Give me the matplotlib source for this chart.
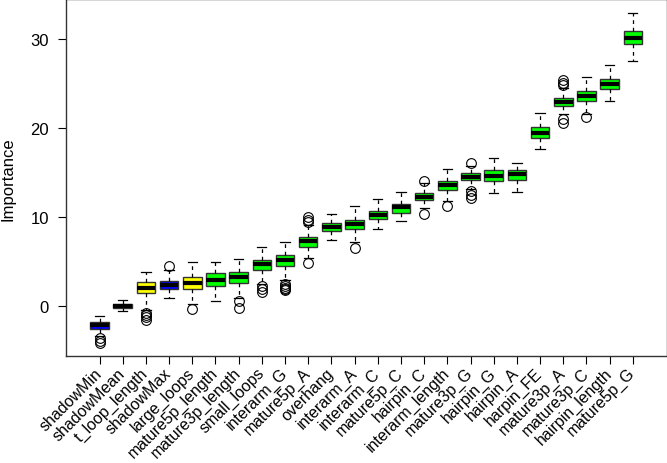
import matplotlib
matplotlib.use("Agg")
import matplotlib.pyplot as plt

plt.rcParams['font.family'] = ['Liberation Sans', 'DejaVu Sans']

labels = ["shadowMin", "shadowMean", "t_loop_length", "shadowMax", "large_loops",
          "mature5p_length", "mature3p_length", "small_loops", "interarm_G", "mature5p_A",
          "overhang", "interarm_A", "interarm_C", "mature5p_C", "hairpin_C",
          "interarm_length", "mature3p_G", "hairpin_G", "hairpin_A", "harpin_FE",
          "mature3p_A", "mature3p_C", "hairpin_length", "mature5p_G"]
status = ["shadow", "shadow", "tentative", "shadow", "tentative",
          "confirmed", "confirmed", "confirmed", "confirmed", "confirmed",
          "confirmed", "confirmed", "confirmed", "confirmed", "confirmed",
          "confirmed", "confirmed", "confirmed", "confirmed", "confirmed",
          "confirmed", "confirmed", "confirmed", "confirmed"]
medians = [-2.2, 0.0, 2.0, 2.35, 2.58, 2.9, 3.17, 4.63, 5.07, 7.2,
           8.85, 9.15, 10.23, 11.05, 12.24, 13.58, 14.48, 14.6, 14.75, 19.41,
           22.88, 23.52, 24.9, 30.12]
q1 = [-2.58, -0.22, 1.38, 1.83, 1.9, 2.2, 2.54, 3.95, 4.4, 6.6,
      8.36, 8.55, 9.7, 10.45, 11.84, 12.99, 14.08, 14.03, 14.15, 18.78,
      22.43, 22.99, 24.3, 29.42]
q3 = [-1.83, 0.19, 2.65, 2.8, 3.2, 3.66, 3.77, 5.1, 5.7, 7.76,
      9.33, 9.66, 10.64, 11.42, 12.69, 14.03, 14.86, 15.27, 15.2, 20.12,
      23.29, 24.11, 25.42, 30.87]
whisk_lo = [-3.4, -0.6, -0.5, 0.86, 0.22, 0.52, 0.9, 2.38, 2.83, 5.37,
            7.39, 7.13, 8.55, 9.48, 10.94, 11.72, 13.1, 12.65, 12.73, 17.55,
            21.5, 21.5, 22.99, 27.51]
whisk_hi = [-1.2, 0.67, 3.77, 3.95, 4.9, 4.9, 5.2, 6.57, 7.13, 9.07,
            10.3, 11.16, 11.95, 12.8, 13.74, 15.34, 15.71, 16.6, 16.0, 21.69,
            24.49, 25.72, 27.07, 32.85]
outliers = [[-3.7, -3.95, -4.25], [], [-0.78, -1.08, -1.34, -1.64], [4.5], [-0.34],
            [], [0.48, -0.22], [2.2, 1.9, 1.53], [2.4, 2.2, 2.0, 1.85, 1.7], [9.93, 9.66, 9.44, 4.8],
            [], [6.46], [], [], [14.03, 10.34],
            [11.23], [15.98, 12.84, 12.43, 12.06], [], [], [],
            [25.31, 25.05, 24.83, 21.02, 20.57], [21.2], [], []]

colors = {"shadow": "#0000FF", "tentative": "#FFFF00", "confirmed": "#00FF00", "rejected": "#FF0000"}

fig = plt.figure(figsize=(6.67, 4.64), dpi=100)
ax = fig.add_axes([0.0985, 0.230, 0.901, 0.769])

stats = []
for i in range(len(labels)):
    stats.append(dict(med=medians[i], q1=q1[i], q3=q3[i], whislo=whisk_lo[i],
                      whishi=whisk_hi[i], fliers=outliers[i], label=labels[i]))

positions = list(range(1, len(labels) + 1))
bp = ax.bxp(stats, positions=positions, widths=0.8, patch_artist=True,
            boxprops=dict(edgecolor="#333333", linewidth=1.0),
            medianprops=dict(color="black", linewidth=3, solid_capstyle="butt"),
            whiskerprops=dict(color="black", linewidth=0.9, linestyle=(0, (3, 3))),
            capprops=dict(color="black", linewidth=0.9),
            flierprops=dict(marker="o", markerfacecolor="none", markeredgecolor="black",
                            markersize=7, markeredgewidth=0.8),
            capwidths=0.4)
for patch, st in zip(bp["boxes"], status):
    patch.set_facecolor(colors[st])

ax.set_xlim(-0.46, 25.46)
ax.set_ylim(-5.7, 34.4)
ax.set_yticks([0, 10, 20, 30])
ax.tick_params(axis="y", labelsize=12, length=6, width=0.8, pad=6)
ax.set_xticks(positions)
ax.set_xticklabels(labels, rotation=45, ha="right", va="center",
                   rotation_mode="anchor", fontsize=11.5)
ax.tick_params(axis="x", length=6, width=0.8, pad=4)
ax.set_ylabel("Importance", fontsize=12)
ax.yaxis.set_label_coords(-0.083, 0.5)
for s in ax.spines.values():
    s.set_linewidth(1.0)
    s.set_color("#333333")

fig.savefig("out.png", dpi=100)
